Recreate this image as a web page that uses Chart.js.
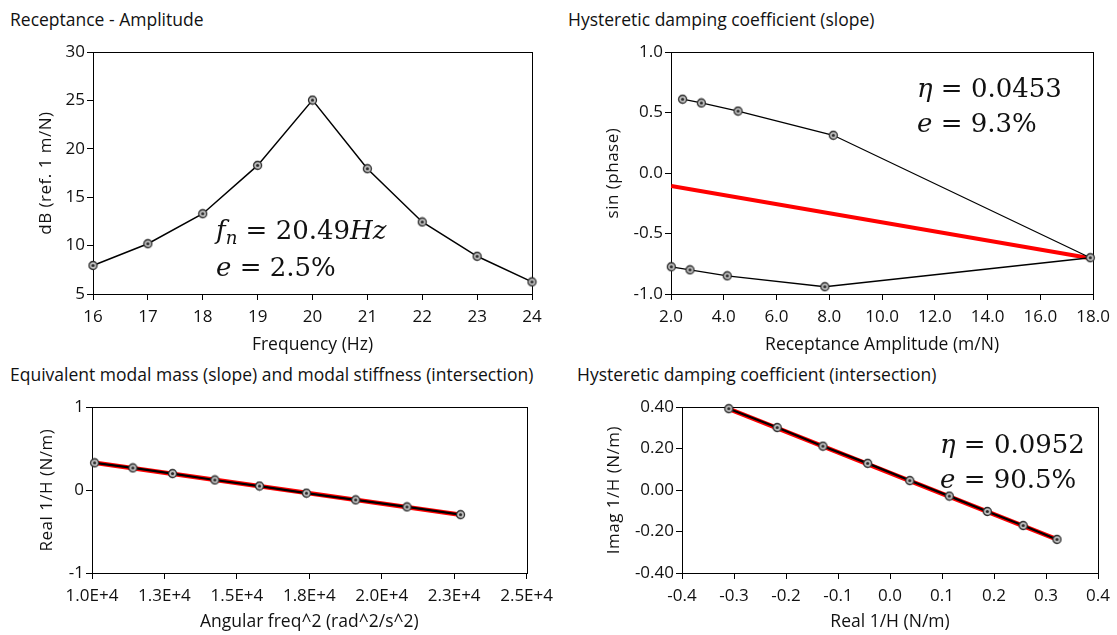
<!DOCTYPE html>
<html>
<head>
<meta charset="utf-8">
<script src="https://cdn.jsdelivr.net/npm/chart.js"></script>
<style>
  body { margin:0; background:#fff; width:1117px; height:635px; overflow:hidden; position:relative; font-family:'Open Sans', sans-serif; color:#111; }
  canvas { position:absolute; }
  .ptitle { position:absolute; font-size:17.5px; line-height:20px; white-space:nowrap; }
  .note { position:absolute; font-family:'DejaVu Serif', serif; font-size:26px; line-height:35px; white-space:nowrap; color:#111; }
  .note sub { font-size:0.7em; vertical-align:baseline; position:relative; top:0.3em; }
</style>
</head>
<body>
<div class="ptitle" style="left:10px;top:9px">Receptance - Amplitude</div>
<div class="ptitle" style="left:568px;top:9px">Hysteretic damping coefficient (slope)</div>
<div class="ptitle" style="left:10px;top:364px">Equivalent modal mass (slope) and modal stiffness (intersection)</div>
<div class="ptitle" style="left:577px;top:364px">Hysteretic damping coefficient (intersection)</div>

<canvas id="c1" width="560" height="330" style="left:0;top:40px"></canvas>
<canvas id="c2" width="557" height="330" style="left:560px;top:40px"></canvas>
<canvas id="c3" width="560" height="240" style="left:0;top:395px"></canvas>
<canvas id="c4" width="557" height="240" style="left:560px;top:395px"></canvas>

<div class="note" style="left:216px;top:213px"><i>f<sub>n</sub></i> = 20.49<i>Hz</i><br><i>e</i> = 2.5%</div>
<div class="note" style="left:917px;top:71px"><i>η</i> = 0.0453<br><i>e</i> = 9.3%</div>
<div class="note" style="left:940px;top:427px"><i>η</i> = 0.0952<br><i>e</i> = 90.5%</div>

<script>
// panel 1: receptance amplitude
const freqHz = [16, 17, 18, 19, 20, 21, 22, 23, 24];
const ampDb  = [7.95, 10.2, 13.3, 18.3, 25.05, 17.95, 12.45, 8.9, 6.25];
const x1Ticks = [16, 17, 18, 19, 20, 21, 22, 23, 24];
const x1Labels = ['16','17','18','19','20','21','22','23','24'];
const y1Ticks = [5, 10, 15, 20, 25, 30];
const y1Labels = ['5','10','15','20','25','30'];

// panel 2: sin(phase) vs receptance amplitude
const recAmp   = [2.44, 3.15, 4.54, 8.15, 17.89, 7.83, 4.13, 2.72, 2.01];
const sinPhase = [0.611, 0.580, 0.513, 0.313, -0.70, -0.94, -0.85, -0.80, -0.775];
const fit2X = [2.01, 17.9];
const fit2Y = [-0.107, -0.705];
const x2Ticks = [2, 4, 6, 8, 10, 12, 14, 16, 18];
const x2Labels = ['2.0','4.0','6.0','8.0','10.0','12.0','14.0','16.0','18.0'];
const y2Ticks = [-1, -0.5, 0, 0.5, 1];
const y2Labels = ['-1.0','-0.5','0.0','0.5','1.0'];

// panel 3: real 1/H vs omega^2
const omegaSq = [10090, 11410, 12780, 14240, 15780, 17400, 19100, 20870, 22720];
const realInv = [0.329, 0.268, 0.199, 0.122, 0.049, -0.037, -0.118, -0.203, -0.296];
const fit3X = [10090, 22720];
const fit3Y = [0.329, -0.297];
const x3Ticks = [10000, 12500, 15000, 17500, 20000, 22500, 25000];
const x3Labels = ['1.0E+4','1.3E+4','1.5E+4','1.8E+4','2.0E+4','2.3E+4','2.5E+4'];
const y3Ticks = [-1, 0, 1];
const y3Labels = ['-1','0','1'];

// panel 4: imag 1/H vs real 1/H
const realInv4 = [-0.310, -0.217, -0.129, -0.043, 0.038, 0.114, 0.187, 0.256, 0.321];
const imagInv  = [0.393, 0.302, 0.212, 0.129, 0.046, -0.029, -0.103, -0.171, -0.238];
const fit4X = [-0.310, 0.321];
const fit4Y = [0.392, -0.238];
const x4Ticks = [-0.4, -0.3, -0.2, -0.1, 0, 0.1, 0.2, 0.3, 0.4];
const x4Labels = ['-0.4','-0.3','-0.2','-0.1','0.0','0.1','0.2','0.3','0.4'];
const y4Ticks = [-0.4, -0.2, 0, 0.2, 0.4];
const y4Labels = ['-0.40','-0.20','0.00','0.20','0.40'];

Chart.defaults.font.family = "'Open Sans', sans-serif";
Chart.defaults.font.size = 17;
Chart.defaults.color = '#111';

const pts = (xs, ys) => xs.map((x, i) => ({x, y: ys[i]}));

function ringMarker(){
  const c = document.createElement('canvas');
  c.width = c.height = 11;
  const g = c.getContext('2d');
  g.beginPath(); g.arc(5.5, 5.5, 4, 0, Math.PI*2);
  g.fillStyle = '#c4c4c4'; g.fill();
  g.lineWidth = 1.3; g.strokeStyle = '#2a2a2a'; g.stroke();
  g.beginPath(); g.arc(5.5, 5.5, 1.6, 0, Math.PI*2);
  g.fillStyle = '#2a2a2a'; g.fill();
  return c;
}
const marker = ringMarker();

const framePlugin = {
  id: 'frame',
  beforeDatasetsDraw(chart){
    const {ctx, chartArea:a} = chart;
    ctx.save();
    ctx.strokeStyle = '#000';
    ctx.lineWidth = 1;
    ctx.strokeRect(Math.round(a.left)+0.5, Math.round(a.top)+0.5, Math.round(a.right-a.left), Math.round(a.bottom-a.top));
    ctx.restore();
  }
};

// y titles are slightly letter-spaced in the original
const yTitlePlugin = {
  id: 'yTitle',
  afterDraw(chart, args, opts){
    const {ctx, chartArea:a} = chart;
    ctx.save();
    ctx.translate(opts.x, (a.top + a.bottom)/2);
    ctx.rotate(-Math.PI/2);
    ctx.font = "17px 'Open Sans'";
    ctx.letterSpacing = '0.5px';
    ctx.fillStyle = '#111';
    ctx.textAlign = 'center';
    ctx.textBaseline = 'middle';
    ctx.fillText(opts.text, 0, 0);
    ctx.restore();
  }
};

function axis(vals, labels, pad, fit){
  return {
    type: 'linear',
    min: vals[0],
    max: vals[vals.length-1],
    afterBuildTicks: s => { s.ticks = vals.map(v => ({value: v})); },
    afterFit: fit,
    ticks: { callback: (v, i) => labels[i], autoSkip:false, maxRotation:0, padding: pad },
    grid: { drawOnChartArea:false, drawTicks:true, tickLength:6, color:'#000' },
    border: { display:false }
  };
}

function xAxis(vals, labels, title, h){
  const a = axis(vals, labels, 7, s => { s.height = h; });
  a.title = { display:true, text:title, padding:0, font:{size:17.5} };
  return a;
}
function yAxis(vals, labels, w){
  return axis(vals, labels, 2, s => { s.width = w; });
}

function dataLine(xs, ys, width){
  return { data: pts(xs, ys), showLine:true, borderColor:'#000', borderWidth:width,
           pointStyle: marker, pointRadius:4, clip:false, order:0 };
}
function fitLine(xs, ys, width){
  return { data: pts(xs, ys), showLine:true, borderColor:'#ff0000', borderWidth:width,
           pointRadius:0, order:1 };
}

function makeChart(id, datasets, xs, ys, padding, yTitle){
  return new Chart(document.getElementById(id), {
    type: 'scatter',
    data: { datasets },
    options: {
      responsive:false,
      animation:false,
      layout: { padding },
      scales: { x: xs, y: ys },
      plugins: { legend:{display:false}, tooltip:{enabled:false}, yTitle }
    },
    plugins: [framePlugin, yTitlePlugin]
  });
}

makeChart('c1',
  [dataLine(freqHz, ampDb, 1.5)],
  xAxis(x1Ticks, x1Labels, 'Frequency (Hz)', 62),
  yAxis(y1Ticks, y1Labels, 93),
  {top:11, right:28, bottom:14, left:0},
  {text:'dB (ref. 1 m/N)', x:46});

makeChart('c2',
  [dataLine(recAmp, sinPhase, 1.3), fitLine(fit2X, fit2Y, 4)],
  xAxis(x2Ticks, x2Labels, 'Receptance Amplitude (m/N)', 62),
  yAxis(y2Ticks, y2Labels, 111),
  {top:11, right:18, bottom:14, left:0},
  {text:'sin (phase)', x:53});

makeChart('c3',
  [dataLine(omegaSq, realInv, 2.2), fitLine(fit3X, fit3Y, 4.5)],
  xAxis(x3Ticks, x3Labels, 'Angular freq^2 (rad^2/s^2)', 60),
  yAxis(y3Ticks, y3Labels, 92),
  {top:11, right:28, bottom:2, left:0},
  {text:'Real 1/H (N/m)', x:47});

makeChart('c4',
  [dataLine(realInv4, imagInv, 2.2), fitLine(fit4X, fit4Y, 4.5)],
  xAxis(x4Ticks, x4Labels, 'Real 1/H (N/m)', 60),
  yAxis(y4Ticks, y4Labels, 122),
  {top:11, right:18, bottom:2, left:0},
  {text:'Imag 1/H (N/m)', x:54});
</script>
</body>
</html>
